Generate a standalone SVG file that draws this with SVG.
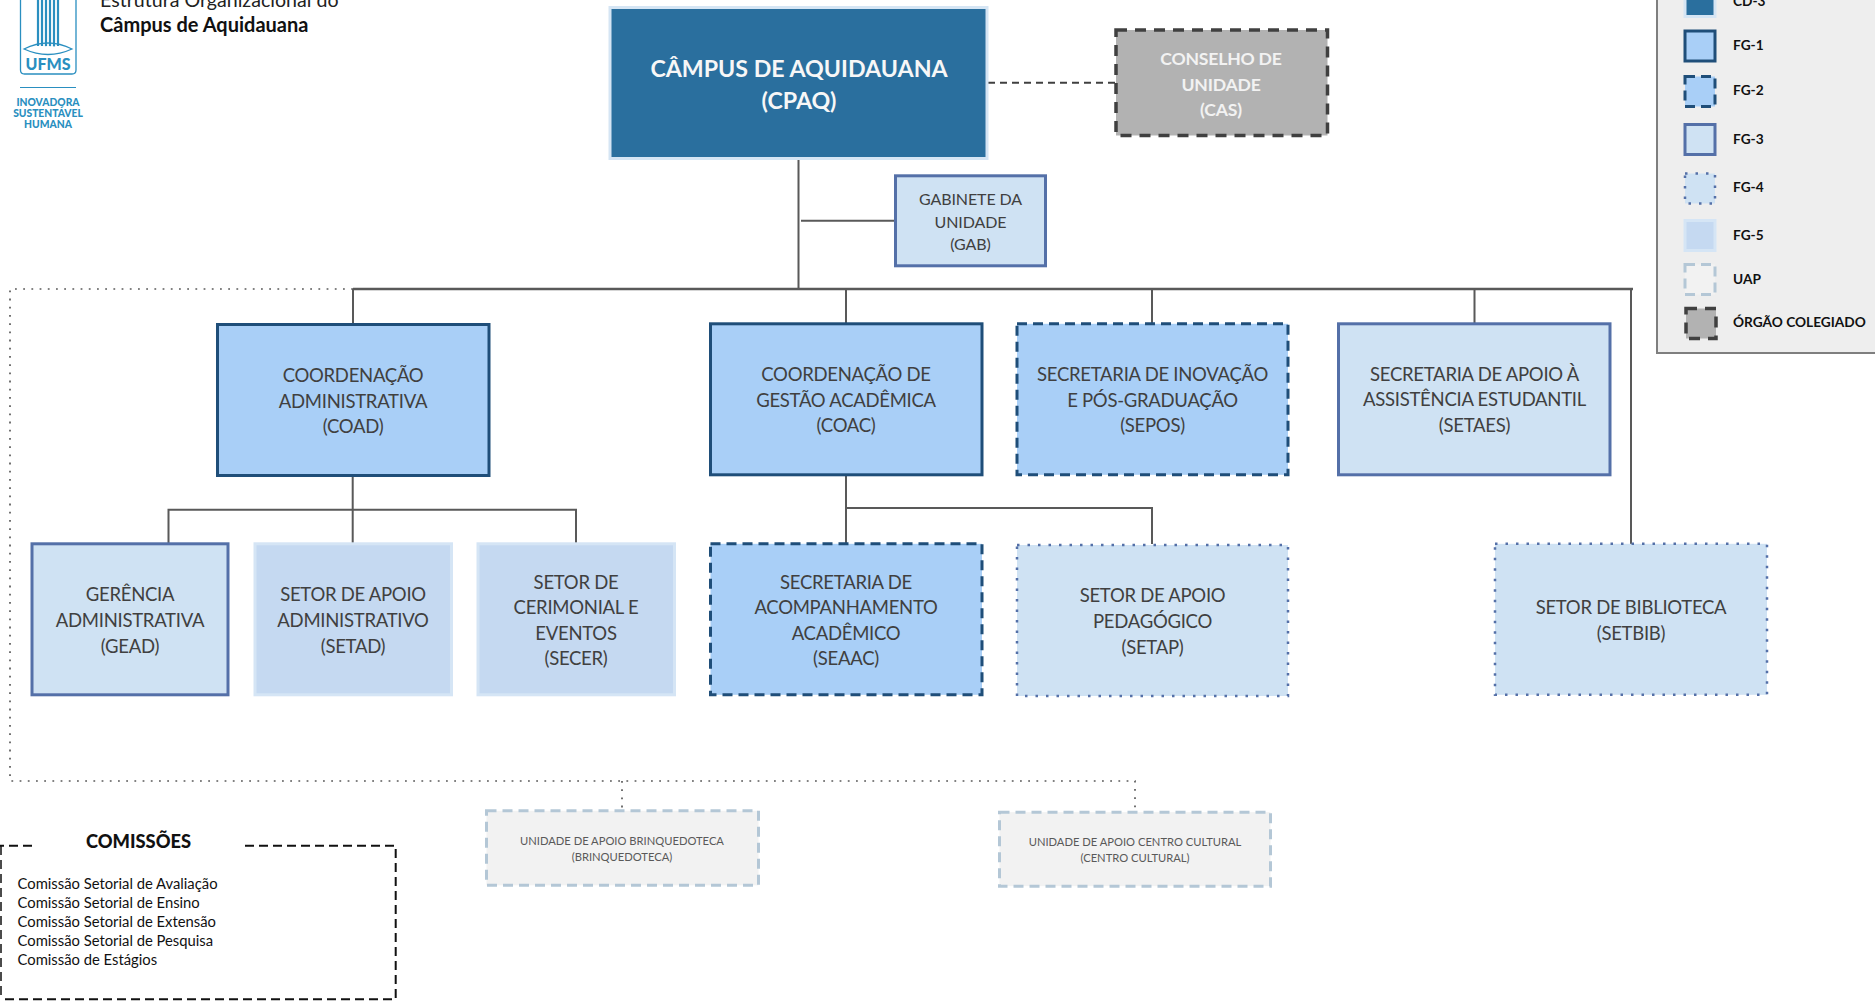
<svg xmlns="http://www.w3.org/2000/svg" width="1875" height="1001" viewBox="0 0 1875 1001">
<style>
text{font-family:"Lato","Open Sans","Liberation Sans",sans-serif;text-anchor:middle}
.n{font-size:18.5px;letter-spacing:-.27px;fill:#404040}
.g{font-size:16px;letter-spacing:-.1px;fill:#404040}
.s{font-size:11.2px;fill:#595959}
.w{font-size:17.6px;letter-spacing:-.2px;fill:#f2f2f2;font-weight:700}
.h{font-size:23.2px;fill:#f7f7f7;font-weight:700}
.l{font-size:13.7px;font-weight:700;fill:#111;text-anchor:start}
.c{font-size:14.8px;fill:#111;text-anchor:start}
.lg{font-size:10.300px;font-weight:900;fill:#2a8fc0}
.cd{fill:#2a6f9e;stroke:#d5e5f4;stroke-width:3}
.f1{fill:#a9cff7;stroke:#1f4e79;stroke-width:3}
.f2{fill:#a9cff7;stroke:#1f4e79;stroke-width:3;stroke-dasharray:10 6}
.f3{fill:#cfe2f3;stroke:#5470a8;stroke-width:3}
.f4{fill:#cfe2f3;stroke:#5470a8;stroke-width:2.5;stroke-dasharray:2.5 8}
.f5{fill:#c5d9f1;stroke:#d5e5f5;stroke-width:3}
.ua{fill:#f2f2f2;stroke:#b4c7d6;stroke-width:3;stroke-dasharray:10 6}
.og{fill:#b2b2b2;stroke:#404040;stroke-width:3.5;stroke-dasharray:11 8}
.ln{fill:none;stroke:#595959;stroke-width:2}
.dt{fill:none;stroke:#595959;stroke-width:1.700;stroke-dasharray:1.800 6.400}
</style>
<g id="logo">
<path d="M20.500 -2V70Q20.500 74 24.500 74H72Q76 74 76 70V-2" fill="none" stroke="#2a8fc0" stroke-width="1.300"/>
<path d="M38 0V46M42 0V46M46 0V47M50 0V47M54 0V47M58 0V46" fill="none" stroke="#2a8fc0" stroke-width="2.200"/>
<path d="M24 49Q48 37 72 49Q48 60 24 49Z" fill="none" stroke="#2a8fc0" stroke-width="1.300"/>
<path d="M33 48Q48 44 63 48Q48 55 33 48Z" fill="#fff"/>
<text x="48" y="70" font-size="16" font-weight="900" fill="#2a8fc0">UFMS</text>
<path d="M20 87.500H76" stroke="#2a8fc0" stroke-width="1.200"/>
<text class="lg" x="48" y="106">INOVADORA</text>
<text class="lg" x="48" y="117">SUSTENTÁVEL</text>
<text class="lg" x="48" y="128">HUMANA</text>
</g>
<g id="title">
<text x="100" y="7" font-size="19.600" fill="#222" style="text-anchor:start">Estrutura Organizacional do</text>
<text x="100" y="32" font-size="20" font-weight="700" fill="#111" style="text-anchor:start">Câmpus de Aquidauana</text>
</g>
<g id="connectors">
<path class="ln" d="M798.500 160V290M801 220.700H894M846 289V323M1152 289V323M1474.500 289V323M1631 289V544M353 289V323M352.700 477V543M168.500 543V509.700H576V543M846 476V543M846 508H1152V544"/>
<path class="ln" style="stroke-width:2.500" d="M353 289H1633"/>
<path d="M988 82.700H1115" fill="none" stroke="#404040" stroke-width="2" style="stroke-dasharray:7 5"/>
<path class="dt" d="M353 289H10V781H1135V811M622 781V810"/>
</g>
<g id="cpaq"><rect class="cd" x="610" y="7.500" width="377" height="151"/>
<text class="h" x="799" y="77">CÂMPUS DE AQUIDAUANA</text><text class="h" x="799" y="109">(CPAQ)</text></g>
<g id="cas"><rect class="og" x="1116" y="30" width="211.500" height="105.500"/>
<text class="w" x="1221" y="65">CONSELHO DE</text><text class="w" x="1221" y="91">UNIDADE</text><text class="w" x="1221" y="116">(CAS)</text></g>
<g id="gab"><rect class="f3" x="895.500" y="175.800" width="150" height="90"/>
<text class="g" x="970.500" y="205">GABINETE DA</text><text class="g" x="970.500" y="228">UNIDADE</text><text class="g" x="970.500" y="250">(GAB)</text></g>
<g id="coad"><rect class="f1" x="217.500" y="324.500" width="271.500" height="151"/>
<text class="n" x="353" y="382">COORDENAÇÃO</text><text class="n" x="353" y="408">ADMINISTRATIVA</text><text class="n" x="353" y="433">(COAD)</text></g>
<g id="coac"><rect class="f1" x="710.500" y="323.800" width="271.500" height="151"/>
<text class="n" x="846" y="381">COORDENAÇÃO DE</text><text class="n" x="846" y="407">GESTÃO ACADÊMICA</text><text class="n" x="846" y="432">(COAC)</text></g>
<g id="sepos"><rect class="f2" x="1017" y="323.800" width="271" height="151"/>
<text class="n" x="1152.500" y="381">SECRETARIA DE INOVAÇÃO</text><text class="n" x="1152.500" y="407">E PÓS-GRADUAÇÃO</text><text class="n" x="1152.500" y="432">(SEPOS)</text></g>
<g id="setaes"><rect class="f3" x="1338.500" y="323.800" width="271.500" height="151"/>
<text class="n" x="1474.500" y="381">SECRETARIA DE APOIO À</text><text class="n" x="1474.500" y="406">ASSISTÊNCIA ESTUDANTIL</text><text class="n" x="1474.500" y="432">(SETAES)</text></g>
<g id="gead"><rect class="f3" x="32" y="543.800" width="196" height="151"/>
<text class="n" x="130" y="601">GERÊNCIA</text><text class="n" x="130" y="627">ADMINISTRATIVA</text><text class="n" x="130" y="653">(GEAD)</text></g>
<g id="setad"><rect class="f5" x="255" y="543.800" width="196.500" height="151"/>
<text class="n" x="353" y="601">SETOR DE APOIO</text><text class="n" x="353" y="627">ADMINISTRATIVO</text><text class="n" x="353" y="653">(SETAD)</text></g>
<g id="secer"><rect class="f5" x="478" y="543.800" width="196.500" height="151"/>
<text class="n" x="576" y="589">SETOR DE</text><text class="n" x="576" y="614">CERIMONIAL E</text><text class="n" x="576" y="640">EVENTOS</text><text class="n" x="576" y="665">(SECER)</text></g>
<g id="seaac"><rect class="f2" x="710.500" y="543.800" width="271.500" height="151"/>
<text class="n" x="846" y="589">SECRETARIA DE</text><text class="n" x="846" y="614">ACOMPANHAMENTO</text><text class="n" x="846" y="640">ACADÊMICO</text><text class="n" x="846" y="665">(SEAAC)</text></g>
<g id="setap"><rect class="f4" x="1017" y="545" width="271" height="151"/>
<text class="n" x="1152.500" y="602">SETOR DE APOIO</text><text class="n" x="1152.500" y="628">PEDAGÓGICO</text><text class="n" x="1152.500" y="654">(SETAP)</text></g>
<g id="setbib"><rect class="f4" x="1495" y="543.800" width="272" height="151"/>
<text class="n" x="1631" y="614">SETOR DE BIBLIOTECA</text><text class="n" x="1631" y="640">(SETBIB)</text></g>
<g id="brinquedoteca"><rect class="ua" x="486.500" y="810.800" width="272" height="74.500"/>
<text class="s" x="622" y="845">UNIDADE DE APOIO BRINQUEDOTECA</text><text class="s" x="622" y="861">(BRINQUEDOTECA)</text></g>
<g id="centro-cultural"><rect class="ua" x="999.500" y="812.200" width="271" height="74"/>
<text class="s" x="1135" y="846">UNIDADE DE APOIO CENTRO CULTURAL</text><text class="s" x="1135" y="862">(CENTRO CULTURAL)</text></g>
<g id="comissoes">
<path d="M32 845.700H0M245 845.700H395.700V999.300H0" fill="none" stroke="#111" stroke-width="2" stroke-dasharray="9 5"/>
<path d="M1 846V999" fill="none" stroke="#111" stroke-width="1.500" stroke-dasharray="9 5"/>
<text x="138.500" y="848" font-size="18.300" font-weight="900" fill="#111">COMISSÕES</text>
<text class="c" x="17.500" y="889">Comissão Setorial de Avaliação</text>
<text class="c" x="17.500" y="908">Comissão Setorial de Ensino</text>
<text class="c" x="17.500" y="927">Comissão Setorial de Extensão</text>
<text class="c" x="17.500" y="946">Comissão Setorial de Pesquisa</text>
<text class="c" x="17.500" y="965">Comissão de Estágios</text>
</g>
<g id="legenda">
<rect x="1657" y="-10" width="230" height="363" fill="#eeeeee" stroke="#7f7f7f" stroke-width="2"/>
<rect class="cd" x="1685" y="-14" width="30" height="30.500"/><text class="l" x="1733" y="6">CD-3</text>
<rect class="f1" x="1685" y="31" width="30" height="30"/><text class="l" x="1733" y="50">FG-1</text>
<rect class="f2" x="1685" y="76.500" width="30" height="30"/><text class="l" x="1733" y="95">FG-2</text>
<rect class="f3" x="1685" y="124.500" width="30" height="30"/><text class="l" x="1733" y="144">FG-3</text>
<rect class="f4" x="1685" y="173.500" width="30" height="30"/><text class="l" x="1733" y="192">FG-4</text>
<rect class="f5" x="1685" y="220.500" width="30" height="30"/><text class="l" x="1733" y="240">FG-5</text>
<rect class="ua" x="1685" y="264.500" width="30" height="30"/><text class="l" x="1733" y="284">UAP</text>
<rect class="og" x="1686" y="308.500" width="30" height="30"/><text class="l" x="1733" y="327">ÓRGÃO COLEGIADO</text>
</g>
</svg>
